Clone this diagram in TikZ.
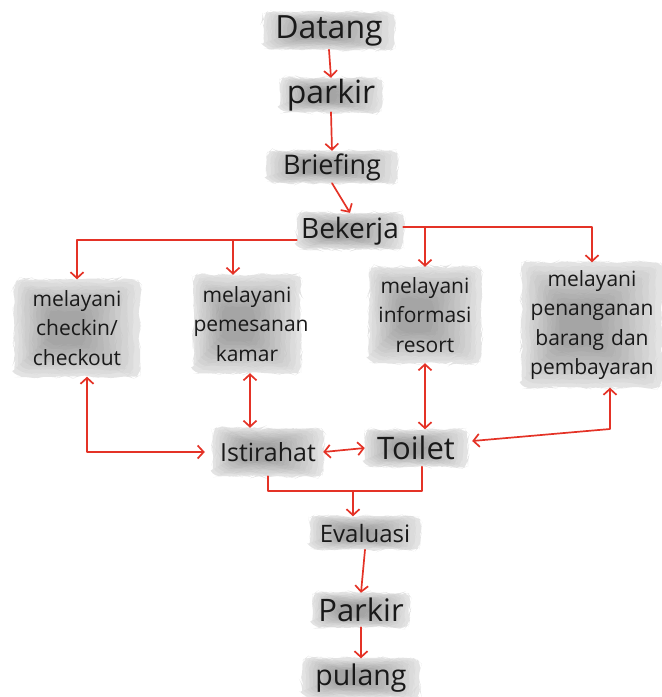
\documentclass[tikz,border=0pt]{standalone}
\usepackage{fontspec}
\setmainfont{Open Sans}
\usetikzlibrary{arrows.meta,calc,backgrounds,decorations.pathmorphing}
\definecolor{inkred}{RGB}{228,50,38}
\definecolor{ink}{RGB}{25,25,25}

\tikzset{
  label/.style={inner sep=0pt, align=center, text=ink},
  big/.style={font=\fontsize{#1}{#1}\selectfont},
  small/.style={font=\fontsize{21}{29.5}\selectfont},
  link/.style={draw=inkred, line width=1.7pt, line cap=round, line join=round},
  arr/.style={link, -{Straight Barb[length=6pt,width=13pt,line width=1.7pt]}},
  arrs/.style={link, {Straight Barb[length=6pt,width=13pt,line width=1.7pt]}-{Straight Barb[length=6pt,width=13pt,line width=1.7pt]}},
  wash/.style={fill=black, fill opacity=#1, rounded corners=7pt,
    decorate, decoration={random steps, segment length=5pt, amplitude=1.5pt}},
}

% node with a grey watercolour wash behind it: name, centre, width, height, text, style
\newcommand{\washnode}[6]{%
  \node[#6, minimum width=#3pt, minimum height=#4pt, text width=#3pt] (#1) at (#2) {#5};
}

\begin{document}
\begin{tikzpicture}[x=1pt, y=-1pt]
\pgfmathsetseed{7}
\useasboundingbox (0,0) rectangle (662,697);

% boxes
\washnode{dat}{329,31}{130}{37}{Datang}{label, big=32}
\washnode{parA}{331,95}{102}{34}{parkir}{label, big=32}
\washnode{bri}{332,167}{130}{32}{Briefing}{label, big=27}
\washnode{bek}{350,231}{106}{36}{Bekerja}{label, big=28}

\washnode{ma}{77,328}{125}{97}{melayani\\checkin/\\checkout}{label, small}
\washnode{mb}{247,324}{107}{98}{melayani\\pemesanan\\kamar}{label, small}
\washnode{mc}{425,315}{112}{96}{melayani\\informasi\\resort}{label, small}
\washnode{md}{592,325}{140}{125}{melayani\\penanganan\\barang dan\\pembayaran}{label, small}

\washnode{ist}{268,452}{110}{48}{Istirahat}{label, big=25}
\washnode{toi}{416,448}{102}{37}{Toilet}{label, big=31}
\washnode{eva}{365,533}{110}{33}{Evaluasi}{label, big=24}
\washnode{parB}{361,610}{97}{34}{Parkir}{label, big=31}
\washnode{pul}{361,678}{117}{39}{pulang}{label, big=28.5}

% soft grey washes: a pale base, then smaller translucent layers
% that deepen the grey towards the left-hand middle
\begin{pgfonlayer}{background}
\foreach \nd in {dat,parA,bri,bek,ma,mb,mc,md,ist,toi,eva,parB,pul}{
  \foreach \i in {0,...,9}{
    \pgfmathsetmacro{\op}{\i==0 ? 0.11 : 0.035}
    \path[wash=\op] let \p1=(\nd.south west), \p2=(\nd.north east) in
      ({\x1+0.030*\i*(\x2-\x1)}, {\y1+0.036*\i*(\y2-\y1)}) rectangle
      ({\x2-0.048*\i*(\x2-\x1)}, {\y2-0.036*\i*(\y2-\y1)});
  }
}
\end{pgfonlayer}

% branch points
\coordinate (hl) at (77,240);
\coordinate (hr) at (592,227);
\coordinate (bb) at (233,240);
\coordinate (c4) at (610,429);
\coordinate (mg) at (353,491);
\coordinate (tb) at ([xshift=6pt]toi.south);

% main sequence
\draw[arr] (dat.south) -- (parA.north);
\draw[arr] (parA.south) -- (bri.north);
\draw[arr] (bri.south) -- (bek.north);

% Bekerja fans out to the four services
\draw[arr] ($(bek.west)+(0,9)$) -- (hl) -- (ma.north);
\draw[arr] (bb) -- (bb |- mb.north);
\draw[arr] ($(bek.east)+(0,-4)$) -- (hr) -- (md.north);
\draw[arr] (mc.north |- hr) -- (mc.north);

% services to and from the breaks
\draw[arrs, shorten >=8pt] ([xshift=10pt]ma.south) |- (ist.west);
\draw[arrs] ([xshift=3pt]mb.south) -- ([xshift=3pt]mb.south |- ist.north);
\draw[arrs] (mc.south) -- (mc.south |- toi.north);
\draw[arrs] ($(toi.east)+(5,-7)$) -- (c4) -- (c4 |- md.south);
\draw[arrs] (ist.east) -- (toi.west);

% breaks merge into the evaluation
\draw[link] (ist.south) -- (ist.south |- mg) -- (mg -| tb) -- (tb);
\draw[arr] (mg) -- (mg |- eva.north);
\draw[arr] (eva.south) -- (parB.north);
\draw[arr] (parB.south) -- (pul.north);
\end{tikzpicture}
\end{document}
